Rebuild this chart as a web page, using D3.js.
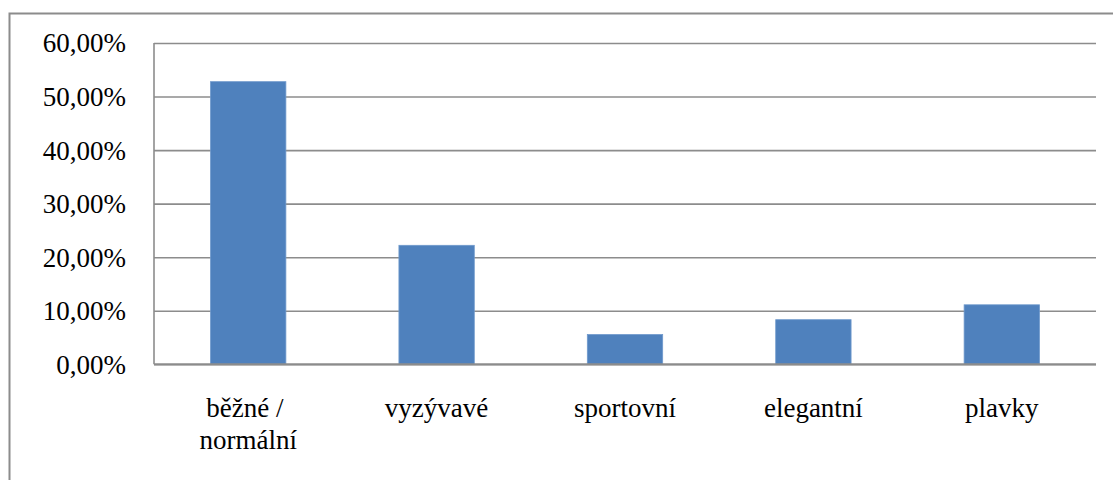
<!DOCTYPE html>
<html>
<head>
<meta charset="utf-8">
<script src="https://cdn.jsdelivr.net/npm/d3@7"></script>
</head>
<body style="margin:0">
<div id="wrap"></div>
<script>
// Categories, label lines and their shares in percent
const categories = ["běžné / normální", "vyzývavé", "sportovní", "elegantní", "plavky"];
const categoryLines = [["běžné /", "normální"], ["vyzývavé"], ["sportovní"], ["elegantní"], ["plavky"]];
const values = [52.78, 22.22, 5.56, 8.33, 11.11];
const tickValues = [0, 10, 20, 30, 40, 50, 60];

const svg = d3.select("#wrap").append("svg")
  .attr("width", 1113)
  .attr("height", 480)
  .style("display", "block");

const plot = { left: 154, right: 1096, top: 43, bottom: 364.3 };
const gridColor = "#8c8c8c";

function serif(sel) {
  return sel
    .attr("font-family", "Liberation Serif")
    .attr("font-size", 27)
    .style("font-family", '"Liberation Serif"', "important")
    .style("font-size", "27px", "important");
}

// Outer chart frame: left and top edges (the rest lies outside the view)
svg.append("path")
  .attr("d", "M9.5,480V13.5H1113")
  .attr("fill", "none")
  .attr("stroke", gridColor)
  .attr("stroke-width", 2);

const x = d3.scaleBand()
  .domain(categories)
  .range([plot.left, plot.right])
  .paddingInner(0.6)
  .paddingOuter(0.3);

const y = d3.scaleLinear()
  .domain([0, 60])
  .range([plot.bottom, plot.top]);

// Horizontal gridlines and percentage labels
const yAxis = d3.axisLeft(y)
  .tickValues(tickValues)
  .tickSize(-(plot.right - plot.left))
  .tickFormat(d => d3.format(".2f")(d).replace(".", ",") + "%");

const gy = svg.append("g")
  .attr("transform", `translate(${plot.left},0)`)
  .call(yAxis);
serif(gy);
gy.select(".domain").remove();
gy.selectAll(".tick line")
  .attr("stroke", gridColor)
  .attr("stroke-width", 1.6);
serif(gy.selectAll(".tick text"))
  .attr("x", -28)
  .attr("dy", "0.33em")
  .attr("fill", "#000");

// Vertical value axis line
svg.append("line")
  .attr("x1", plot.left).attr("x2", plot.left)
  .attr("y1", plot.top).attr("y2", plot.bottom)
  .attr("stroke", gridColor)
  .attr("stroke-width", 1.6);

// Bars
svg.append("g")
  .selectAll("rect")
  .data(values)
  .join("rect")
  .attr("x", (d, i) => x(categories[i]))
  .attr("y", d => y(d))
  .attr("width", x.bandwidth())
  .attr("height", d => y(0) - y(d))
  .attr("fill", "#4f81bd")
  .attr("stroke", "#6f99cc")
  .attr("stroke-width", 0.8);

// Category axis line drawn over the bar bases
svg.append("line")
  .attr("x1", plot.left).attr("x2", plot.right)
  .attr("y1", y(0)).attr("y2", y(0))
  .attr("stroke", gridColor)
  .attr("stroke-width", 2);

// Category labels, one text per line; a wrapped first line keeps the
// trailing space of the break, so it sits slightly left of centre
const lineItems = [];
categories.forEach((c, i) => {
  categoryLines[i].forEach((t, j) => {
    lineItems.push({ cat: c, text: t, line: j, wrapped: categoryLines[i].length > 1 && j === 0 });
  });
});

serif(svg.append("g")
  .selectAll("text")
  .data(lineItems)
  .join("text"))
  .attr("x", d => x(d.cat) + x.bandwidth() / 2 - (d.wrapped ? 3.4 : 0))
  .attr("y", d => 417 + d.line * 32)
  .attr("text-anchor", "middle")
  .attr("fill", "#000")
  .text(d => d.text);
</script>
</body>
</html>
